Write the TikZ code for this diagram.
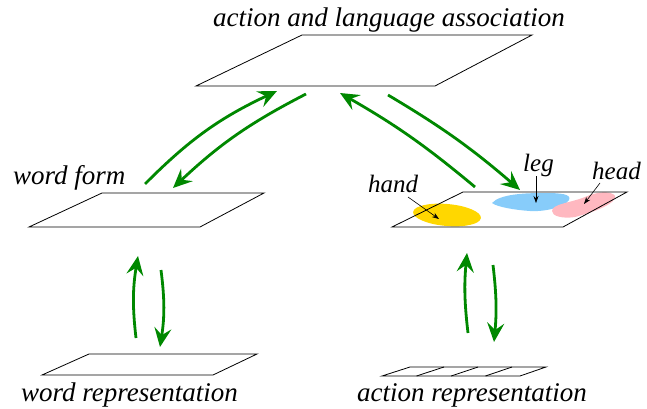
\documentclass[tikz,border=0pt]{standalone}
\usepackage{fontspec}
\setmainfont{Liberation Serif}[ItalicFont={Liberation Serif Italic}]
\usetikzlibrary{arrows.meta}
\definecolor{arrgreen}{RGB}{0,136,0}
\definecolor{yel}{RGB}{255,215,0}
\definecolor{blu}{RGB}{135,204,250}
\definecolor{pnk}{RGB}{255,184,192}
\tikzset{
  plane/.style={draw=black, line width=0.8pt, line join=miter},
  bigarrow/.style={draw=arrgreen, line width=2.8pt, -{Stealth[length=19pt,width=17pt,inset=7pt]}},
  smallarrow/.style={draw=black, line width=0.6pt, -{Stealth[length=7pt,width=5pt]}},
  mainlabel/.style={inner sep=0pt, anchor=base west, font=\fontsize{27}{30}\selectfont\itshape},
  partlabel/.style={inner sep=0pt, anchor=base west, font=\fontsize{25}{28}\selectfont\itshape}
}
\begin{document}
\begin{tikzpicture}[x=1pt,y=-1pt]
\useasboundingbox (0,0) rectangle (647,409);
% planes
\draw[plane] (302,35) -- (532,35) -- (435,86) -- (196,86) -- cycle;
\draw[plane] (102,193) -- (264,193) -- (200,227) -- (29,227) -- cycle;
% blobs on the body plane
\fill[yel, rotate around={-5:(447,215)}] (447,215) ellipse [x radius=34, y radius=11];
\fill[blu] (492,203) .. controls (500,194) and (525,193) .. (545,193)
  .. controls (560,193) and (572,194) .. (569,200)
  .. controls (565,207) and (545,212) .. (530,211)
  .. controls (515,210) and (497,207) .. (492,203) -- cycle;
\fill[pnk] (552,211) .. controls (552,204) and (570,203) .. (585,197)
  .. controls (598,191) and (612,191) .. (615,196)
  .. controls (617,203) and (595,212) .. (575,217)
  .. controls (562,219) and (552,216) .. (552,211) -- cycle;
\draw[plane] (463,192) -- (627,192) -- (563,227) -- (392,227) -- cycle;
% word representation
\draw[plane] (89,354) -- (257,354) -- (213,375) -- (42,375) -- cycle;
% action representation
\draw[plane] (410,367) -- (546,367) -- (520,376) -- (382,376) -- cycle;
\foreach \k in {1,2,3} {
  \draw[plane] ({382+34.5*\k},376) -- ({410+34*\k},367);
}
% labels
\node[mainlabel] (tAL) at (213,27) {action and language association};
\node[mainlabel] (tWF) at (13,184) {word form};
\node[mainlabel] (tWR) at (21,401) {word representation};
\node[mainlabel] (tAR) at (357,401) {action representation};
\node[partlabel] (tH) at (368,192) {hand};
\node[partlabel] (tL) at (523,171) {leg};
\node[partlabel] (tHd) at (592,179) {head};
% arrow end points
\coordinate (a1s) at (145,184); \coordinate (a1e) at (277,91);
\coordinate (a2s) at (306,94);  \coordinate (a2e) at (173,188);
\coordinate (a3s) at (475,187); \coordinate (a3e) at (340,93);
\coordinate (a4s) at (388,95);  \coordinate (a4e) at (520,190);
\coordinate (b1s) at (136,338); \coordinate (b1e) at (138,256);
\coordinate (b2s) at (161,270); \coordinate (b2e) at (160,347);
\coordinate (c1s) at (468,333); \coordinate (c1e) at (467,253);
\coordinate (c2s) at (493,265); \coordinate (c2e) at (494,342);
\coordinate (hs) at (408,197); \coordinate (he) at (439,219);
\coordinate (ls) at (536,176); \coordinate (le) at (536,203);
\coordinate (ds) at (600,183); \coordinate (de) at (584,204);
% green arrows
\draw[bigarrow] (a1s) to[bend left=10] (a1e);
\draw[bigarrow] (a2s) to[bend right=8] (a2e);
\draw[bigarrow] (a3s) to[bend right=5] (a3e);
\draw[bigarrow] (a4s) to[bend left=5] (a4e);
\draw[bigarrow] (b1s) to[bend left=8] (b1e);
\draw[bigarrow] (b2s) to[bend left=8] (b2e);
\draw[bigarrow] (c1s) to[bend left=6] (c1e);
\draw[bigarrow] (c2s) to[bend left=6] (c2e);
% small pointers
\draw[smallarrow] (hs) -- (he);
\draw[smallarrow] (ls) -- (le);
\draw[smallarrow] (ds) -- (de);
\end{tikzpicture}
\end{document}
